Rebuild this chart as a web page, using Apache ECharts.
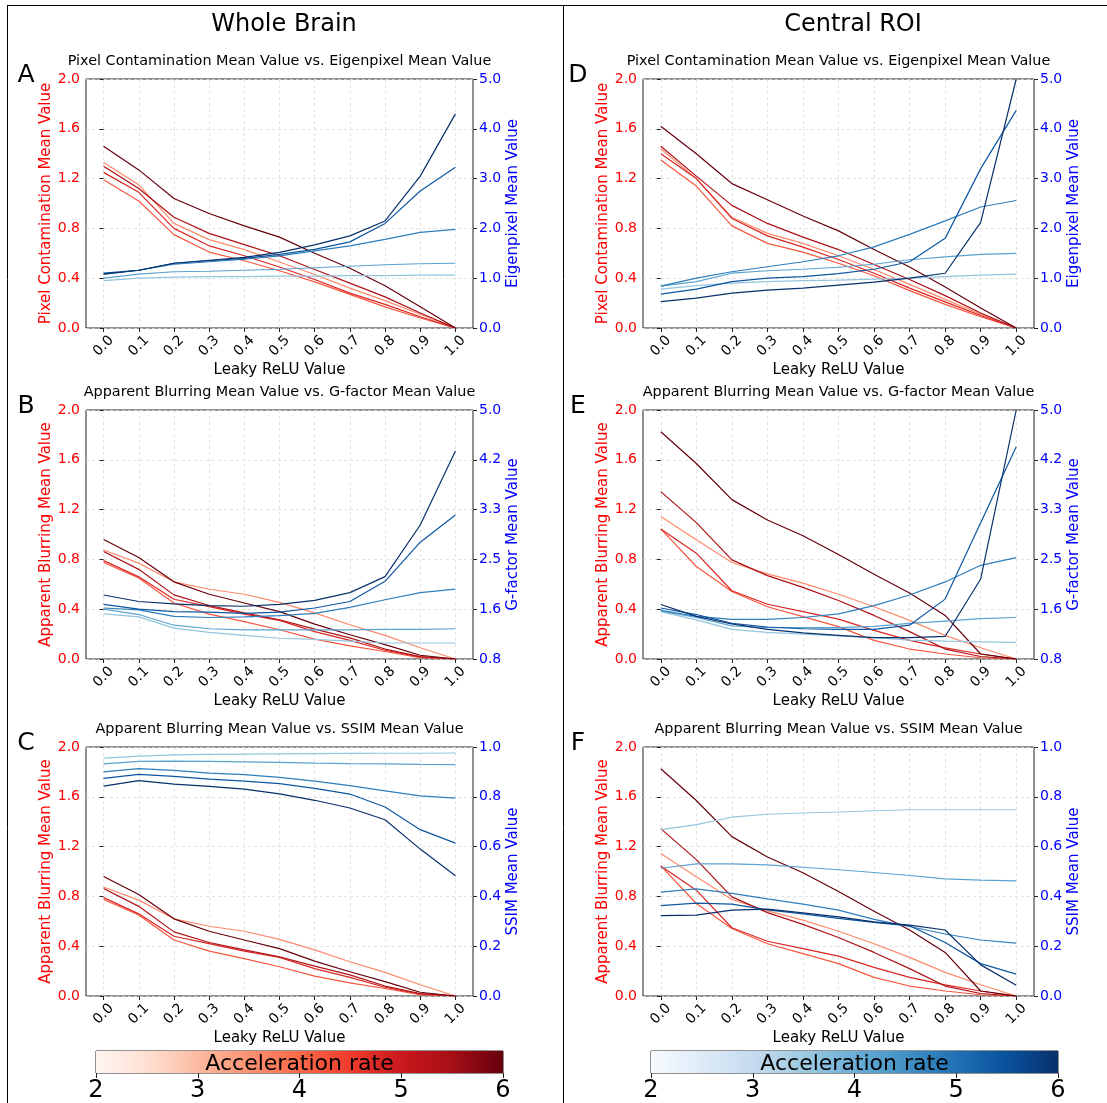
<!DOCTYPE html>
<html>
<head>
<meta charset="utf-8">
<script src="https://cdn.jsdelivr.net/npm/echarts@6/dist/echarts.min.js"></script>
<style>
  html, body { margin: 0; padding: 0; background: #fff; }
  #main { width: 1107px; height: 1103px; }
</style>
</head>
<body>
<div id="main"></div>
<script>
// x values (Leaky ReLU)
var leaky = [0.0, 0.1, 0.2, 0.3, 0.4, 0.5, 0.6, 0.7, 0.8, 0.9, 1.0];
var rates = [2, 3, 4, 5, 6];
var leftTicks = [0.0, 0.4, 0.8, 1.2, 1.6, 2.0];
var eigTicks = [0, 1, 2, 3, 4, 5];
var gTicks = [0.8, 1.64, 2.48, 3.32, 4.16, 5.0];
var ssimTicks = [0, 0.2, 0.4, 0.6, 0.8, 1.0];
var cbarTicks = [2, 3, 4, 5, 6];

// line colours for acceleration rate 2..6
var redColors = ['#fc8a6a', '#f6573e', '#d92623', '#ad1117', '#67000d'];
var blueColors = ['#94c4df', '#5ba3d0', '#2e7ebc', '#0d57a1', '#08306b'];

// Whole brain - pixel contamination (rate 2..6)
var wholePC = [
  [1.33, 1.15, 0.84, 0.71, 0.63, 0.53, 0.43, 0.32, 0.22, 0.11, 0],
  [1.19, 1.02, 0.75, 0.61, 0.54, 0.46, 0.37, 0.27, 0.17, 0.08, 0],
  [1.25, 1.09, 0.80, 0.66, 0.58, 0.49, 0.39, 0.28, 0.19, 0.09, 0],
  [1.30, 1.12, 0.89, 0.76, 0.67, 0.58, 0.47, 0.36, 0.25, 0.12, 0],
  [1.46, 1.27, 1.04, 0.92, 0.82, 0.73, 0.60, 0.48, 0.34, 0.17, 0]
];
// Whole brain - eigenpixel
var wholeEig = [
  [0.95, 1.00, 1.02, 1.03, 1.03, 1.04, 1.04, 1.05, 1.05, 1.06, 1.06],
  [1.00, 1.08, 1.13, 1.14, 1.16, 1.18, 1.21, 1.24, 1.27, 1.29, 1.30],
  [1.08, 1.16, 1.28, 1.33, 1.38, 1.45, 1.55, 1.65, 1.78, 1.92, 1.98],
  [1.10, 1.16, 1.30, 1.35, 1.40, 1.48, 1.58, 1.73, 2.10, 2.75, 3.23],
  [1.08, 1.16, 1.30, 1.36, 1.42, 1.52, 1.67, 1.85, 2.15, 3.05, 4.30]
];
// Whole brain - apparent blurring
var wholeAB = [
  [0.876, 0.77, 0.62, 0.56, 0.52, 0.455, 0.37, 0.275, 0.19, 0.09, 0],
  [0.775, 0.65, 0.45, 0.36, 0.30, 0.235, 0.16, 0.105, 0.06, 0.01, 0],
  [0.79, 0.66, 0.48, 0.42, 0.36, 0.31, 0.22, 0.15, 0.07, 0.015, 0],
  [0.863, 0.72, 0.515, 0.43, 0.37, 0.315, 0.24, 0.17, 0.08, 0.02, 0],
  [0.96, 0.815, 0.62, 0.52, 0.45, 0.38, 0.28, 0.195, 0.115, 0.03, 0]
];
// Whole brain - g-factor
var wholeG = [
  [1.56, 1.51, 1.32, 1.25, 1.20, 1.15, 1.13, 1.10, 1.07, 1.07, 1.07],
  [1.64, 1.55, 1.37, 1.31, 1.29, 1.29, 1.29, 1.29, 1.30, 1.30, 1.31],
  [1.66, 1.63, 1.52, 1.50, 1.51, 1.53, 1.57, 1.67, 1.80, 1.92, 1.98],
  [1.72, 1.64, 1.60, 1.59, 1.57, 1.59, 1.66, 1.77, 2.11, 2.77, 3.23],
  [1.88, 1.77, 1.73, 1.70, 1.69, 1.72, 1.79, 1.92, 2.19, 3.06, 4.31]
];
// Whole brain - SSIM
var wholeSSIM = [
  [0.955, 0.963, 0.968, 0.970, 0.971, 0.972, 0.973, 0.974, 0.975, 0.975, 0.976],
  [0.932, 0.942, 0.943, 0.942, 0.940, 0.938, 0.935, 0.933, 0.932, 0.930, 0.929],
  [0.900, 0.913, 0.906, 0.895, 0.889, 0.878, 0.863, 0.845, 0.824, 0.804, 0.795],
  [0.874, 0.890, 0.882, 0.871, 0.863, 0.853, 0.834, 0.811, 0.759, 0.668, 0.614],
  [0.843, 0.865, 0.851, 0.842, 0.831, 0.812, 0.786, 0.755, 0.708, 0.590, 0.483]
];
// Central ROI - pixel contamination
var roiPC = [
  [1.44, 1.20, 0.89, 0.76, 0.68, 0.58, 0.47, 0.35, 0.23, 0.11, 0],
  [1.35, 1.14, 0.82, 0.68, 0.61, 0.52, 0.42, 0.30, 0.19, 0.09, 0],
  [1.40, 1.20, 0.88, 0.74, 0.65, 0.55, 0.44, 0.32, 0.21, 0.10, 0],
  [1.46, 1.22, 0.985, 0.84, 0.73, 0.63, 0.51, 0.39, 0.26, 0.12, 0],
  [1.62, 1.40, 1.16, 1.03, 0.90, 0.78, 0.63, 0.49, 0.33, 0.16, 0]
];
// Central ROI - eigenpixel
var roiEig = [
  [0.78, 0.85, 0.90, 0.93, 0.95, 0.96, 0.98, 1.00, 1.03, 1.06, 1.08],
  [0.84, 0.93, 1.10, 1.15, 1.18, 1.22, 1.28, 1.37, 1.43, 1.48, 1.50],
  [0.84, 1.00, 1.13, 1.23, 1.33, 1.45, 1.63, 1.88, 2.15, 2.43, 2.56],
  [0.68, 0.78, 0.93, 1.00, 1.03, 1.09, 1.18, 1.33, 1.80, 3.20, 4.37],
  [0.53, 0.60, 0.70, 0.76, 0.80, 0.86, 0.92, 1.00, 1.10, 2.12, 5.00]
];
// Central ROI - apparent blurring
var roiAB = [
  [1.144, 0.957, 0.775, 0.684, 0.61, 0.52, 0.42, 0.31, 0.19, 0.09, 0],
  [1.045, 0.743, 0.542, 0.42, 0.34, 0.26, 0.15, 0.08, 0.04, 0.01, 0],
  [1.045, 0.85, 0.548, 0.44, 0.38, 0.32, 0.23, 0.15, 0.09, 0.04, 0],
  [1.344, 1.095, 0.796, 0.67, 0.575, 0.47, 0.35, 0.22, 0.08, 0.02, 0],
  [1.825, 1.57, 1.28, 1.117, 0.99, 0.84, 0.68, 0.53, 0.35, 0.04, 0]
];
// Central ROI - g-factor
var roiG = [
  [1.60, 1.46, 1.30, 1.25, 1.22, 1.19, 1.16, 1.12, 1.10, 1.09, 1.08],
  [1.61, 1.50, 1.36, 1.33, 1.33, 1.33, 1.35, 1.40, 1.44, 1.48, 1.50],
  [1.62, 1.52, 1.47, 1.47, 1.50, 1.56, 1.70, 1.88, 2.10, 2.38, 2.51],
  [1.66, 1.55, 1.40, 1.34, 1.31, 1.30, 1.30, 1.37, 1.81, 3.10, 4.38],
  [1.72, 1.52, 1.39, 1.30, 1.24, 1.20, 1.16, 1.16, 1.18, 2.15, 5.00]
];
// Central ROI - SSIM
var roiSSIM = [
  [0.668, 0.688, 0.718, 0.730, 0.735, 0.739, 0.744, 0.748, 0.748, 0.748, 0.748],
  [0.513, 0.531, 0.531, 0.527, 0.517, 0.507, 0.496, 0.484, 0.470, 0.465, 0.462],
  [0.417, 0.430, 0.412, 0.390, 0.369, 0.345, 0.308, 0.279, 0.249, 0.225, 0.212],
  [0.363, 0.373, 0.369, 0.346, 0.330, 0.312, 0.296, 0.282, 0.215, 0.130, 0.088],
  [0.323, 0.325, 0.345, 0.349, 0.334, 0.318, 0.298, 0.285, 0.265, 0.125, 0.043]
];

var FONT = 'DejaVu Sans';

var panels = [
  { left: 86, top: 79, width: 387, letter: 'A', title: 'Pixel Contamination Mean Value vs. Eigenpixel Mean Value',
    leftName: 'Pixel Contamination Mean Value', rightName: 'Eigenpixel Mean Value', red: wholePC, blue: wholeEig, rTicks: eigTicks },
  { left: 86, top: 410, width: 387, letter: 'B', title: 'Apparent Blurring Mean Value vs. G-factor Mean Value',
    leftName: 'Apparent Blurring Mean Value', rightName: 'G-factor Mean Value', red: wholeAB, blue: wholeG, rTicks: gTicks },
  { left: 86, top: 747, width: 387, letter: 'C', title: 'Apparent Blurring Mean Value vs. SSIM Mean Value',
    leftName: 'Apparent Blurring Mean Value', rightName: 'SSIM Mean Value', red: wholeAB, blue: wholeSSIM, rTicks: ssimTicks },
  { left: 643, top: 79, width: 391, letter: 'D', title: 'Pixel Contamination Mean Value vs. Eigenpixel Mean Value',
    leftName: 'Pixel Contamination Mean Value', rightName: 'Eigenpixel Mean Value', red: roiPC, blue: roiEig, rTicks: eigTicks },
  { left: 643, top: 410, width: 391, letter: 'E', title: 'Apparent Blurring Mean Value vs. G-factor Mean Value',
    leftName: 'Apparent Blurring Mean Value', rightName: 'G-factor Mean Value', red: roiAB, blue: roiG, rTicks: gTicks },
  { left: 643, top: 747, width: 391, letter: 'F', title: 'Apparent Blurring Mean Value vs. SSIM Mean Value',
    leftName: 'Apparent Blurring Mean Value', rightName: 'SSIM Mean Value', red: roiAB, blue: roiSSIM, rTicks: ssimTicks }
];
var PH = 249;

var grids = [], xAxes = [], yAxes = [], series = [], graphics = [];

function pairs(vals) {
  return leaky.map(function (x, i) { return [x, vals[i]]; });
}
function fmt1(v) { return Number(v).toFixed(1); }

panels.forEach(function (p, i) {
  var isLeft = p.left < 300;
  grids.push({ left: p.left, top: p.top, width: p.width, height: PH, show: true,
    borderColor: '#222', borderWidth: 1, backgroundColor: 'transparent' });

  xAxes.push({
    type: 'value', gridIndex: i, min: -0.05, max: 1.05,
    name: 'Leaky ReLU Value', nameLocation: 'middle', nameGap: 35,
    nameTextStyle: { fontSize: 15, color: '#000', fontFamily: FONT },
    axisLine: { show: false },
    axisTick: { show: true, customValues: leaky, length: 4, lineStyle: { color: '#222' } },
    axisLabel: { customValues: leaky, rotate: 45, align: 'center', verticalAlign: 'middle', margin: 18,
      fontSize: 14, color: '#000', fontFamily: FONT, formatter: fmt1 },
    splitLine: { show: true, lineStyle: { color: '#dcdcdc', type: [3, 3], width: 0.8 } }
  });

  yAxes.push({
    type: 'value', gridIndex: i, position: 'left', min: 0, max: 2, interval: 0.4,
    name: p.leftName, nameLocation: 'middle', nameGap: isLeft ? 27 : 29,
    nameTextStyle: { fontSize: 15, color: '#ff0000', fontFamily: FONT },
    axisLine: { show: false },
    axisTick: { show: true, length: 4, lineStyle: { color: '#222' } },
    axisLabel: { fontSize: 14, color: '#ff0000', fontFamily: FONT, margin: 6, formatter: fmt1 },
    splitLine: { show: true, lineStyle: { color: '#dcdcdc', type: [3, 3], width: 0.8 } }
  });
  yAxes.push({
    type: 'value', gridIndex: i, position: 'right',
    min: p.rTicks[0], max: p.rTicks[p.rTicks.length - 1],
    name: p.rightName, nameLocation: 'middle', nameGap: isLeft ? 26 : 29,
    nameTextStyle: { fontSize: 15, color: '#0000ff', fontFamily: FONT },
    axisLine: { show: false },
    axisTick: { show: true, customValues: p.rTicks, length: 4, lineStyle: { color: '#222' } },
    axisLabel: { customValues: p.rTicks, fontSize: 14, color: '#0000ff', fontFamily: FONT, margin: 6, formatter: fmt1 },
    splitLine: { show: false }
  });

  rates.forEach(function (r, k) {
    series.push({
      type: 'line', name: 'red ' + r, xAxisIndex: i, yAxisIndex: 2 * i,
      data: pairs(p.red[k]), showSymbol: false, symbol: 'none', clip: true,
      lineStyle: { color: redColors[k], width: 1.2 }, z: 3
    });
  });
  rates.forEach(function (r, k) {
    series.push({
      type: 'line', name: 'blue ' + r, xAxisIndex: i, yAxisIndex: 2 * i + 1,
      data: pairs(p.blue[k]), showSymbol: false, symbol: 'none', clip: true,
      lineStyle: { color: blueColors[k], width: 1.2 }, z: 3
    });
  });

  // panel title and letter
  graphics.push({ type: 'text', x: p.left + p.width / 2, y: p.top - 18,
    style: { text: p.title, font: '14.4px "DejaVu Sans"', fill: '#000', align: 'center', verticalAlign: 'middle' } });
  graphics.push({ type: 'text', x: isLeft ? 26 : 578, y: p.top - 4,
    style: { text: p.letter, font: '25px "DejaVu Sans"', fill: '#000', align: 'center', verticalAlign: 'middle' } });
});

// colour bars
var redStops = ['#fff5f0', '#fee0d2', '#fcbba1', '#fc9272', '#fb6a4a', '#ef3b2c', '#cb181d', '#a50f15', '#67000d'];
var blueStops = ['#f7fbff', '#deebf7', '#c6dbef', '#9ecae1', '#6baed6', '#4292c6', '#2171b5', '#08519c', '#08306b'];
var cbars = [{ left: 96, stops: redStops }, { left: 651, stops: blueStops }];
cbars.forEach(function (c, j) {
  var gi = panels.length + j;
  grids.push({ left: c.left, top: 1051, width: 407, height: 24, show: true, borderColor: '#222', borderWidth: 1 });
  xAxes.push({
    type: 'value', gridIndex: gi, min: 2, max: 6, interval: 1,
    axisLine: { show: false },
    axisTick: { show: true, length: 5, lineStyle: { color: '#222' } },
    axisLabel: { fontSize: 24, color: '#000', fontFamily: FONT, margin: 6 },
    splitLine: { show: false }
  });
  yAxes.push({ type: 'value', gridIndex: gi, min: 0, max: 1, show: false });
  var grad = new echarts.graphic.LinearGradient(0, 0, 1, 0, c.stops.map(function (col, s) {
    return { offset: s / (c.stops.length - 1), color: col };
  }));
  series.push({
    type: 'custom', xAxisIndex: gi, yAxisIndex: 2 * panels.length + j, data: [[2, 6]], z: 1,
    renderItem: function (params, api) {
      var p0 = api.coord([api.value(0), 1]);
      var p1 = api.coord([api.value(1), 0]);
      return { type: 'rect', shape: { x: p0[0], y: p0[1], width: p1[0] - p0[0], height: p1[1] - p0[1] },
        style: { fill: grad } };
    }
  });
  graphics.push({ type: 'text', x: c.left + 203.5, y: 1064, z: 10,
    style: { text: 'Acceleration rate', font: '22px "DejaVu Sans"', fill: '#000', align: 'center', verticalAlign: 'middle' } });
});

// column headers and frame
graphics.push({ type: 'text', x: 284, y: 25,
  style: { text: 'Whole Brain', font: '24px "DejaVu Sans"', fill: '#000', align: 'center', verticalAlign: 'middle' } });
graphics.push({ type: 'text', x: 853, y: 25,
  style: { text: 'Central ROI', font: '24px "DejaVu Sans"', fill: '#000', align: 'center', verticalAlign: 'middle' } });
graphics.push({ type: 'line', shape: { x1: 7.5, y1: 5, x2: 7.5, y2: 1103 }, style: { stroke: '#000', lineWidth: 1 } });
graphics.push({ type: 'line', shape: { x1: 563.5, y1: 5, x2: 563.5, y2: 1103 }, style: { stroke: '#000', lineWidth: 1 } });
graphics.push({ type: 'line', shape: { x1: 7, y1: 5.5, x2: 1107, y2: 5.5 }, style: { stroke: '#000', lineWidth: 1 } });

var myChart = echarts.init(document.getElementById('main'), null, { renderer: 'canvas' });
myChart.setOption({
  animation: false,
  backgroundColor: '#fff',
  textStyle: { fontFamily: FONT },
  grid: grids,
  xAxis: xAxes,
  yAxis: yAxes,
  series: series,
  graphic: graphics
});
</script>
</body>
</html>
